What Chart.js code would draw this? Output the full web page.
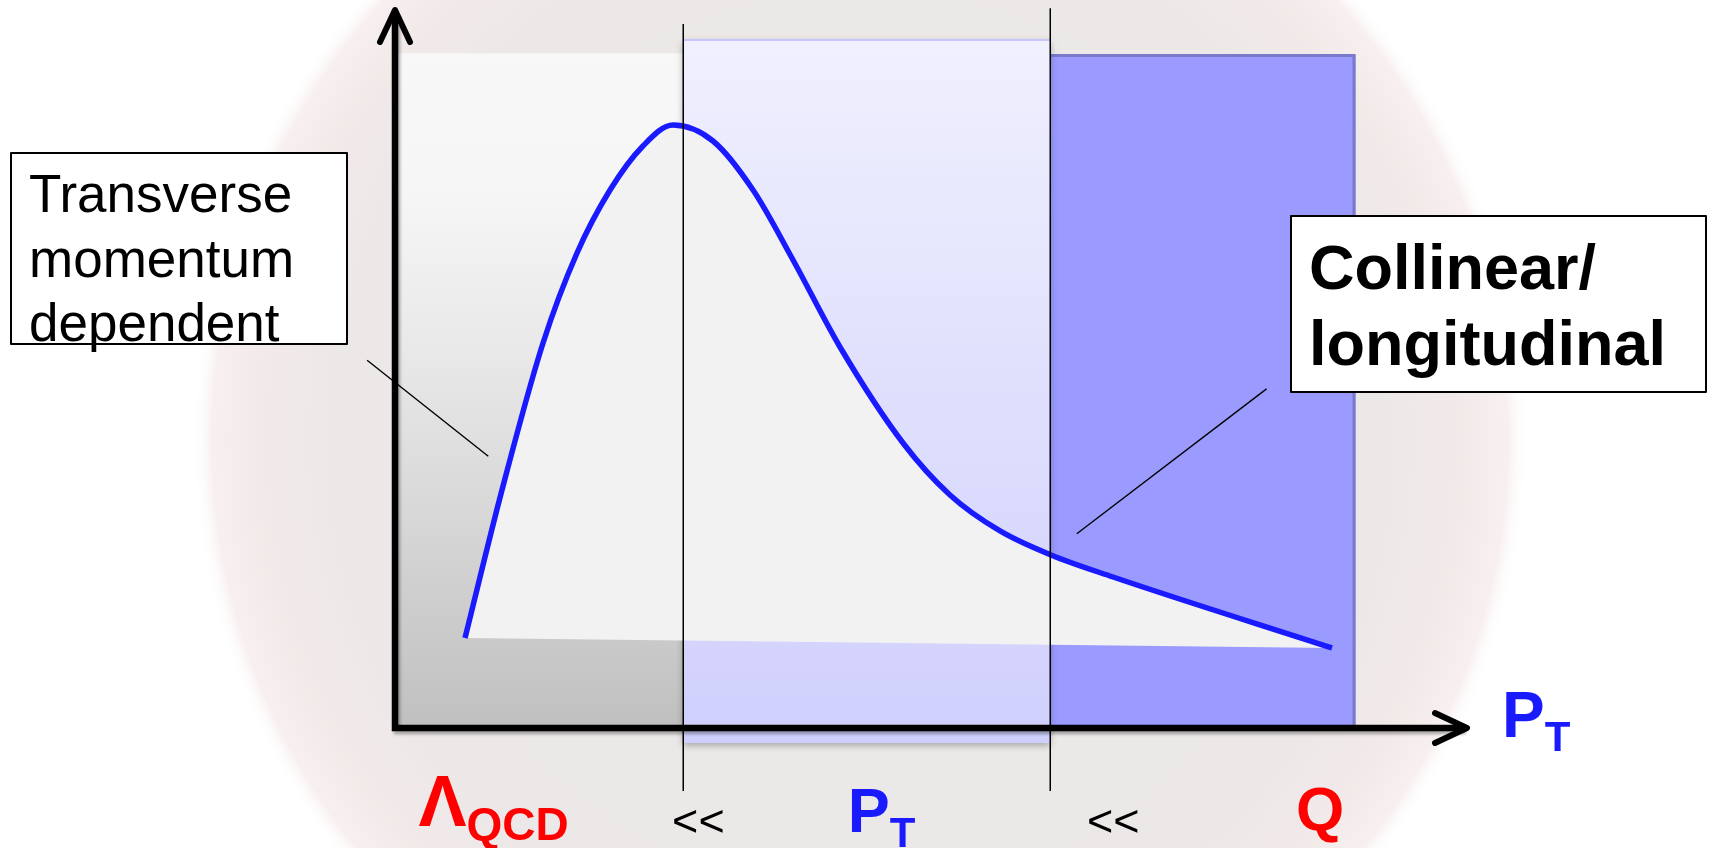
<!DOCTYPE html>
<html>
<head>
<meta charset="utf-8">
<title>TMD vs collinear regimes in P_T</title>
<script src="https://cdn.jsdelivr.net/npm/chart.js@4.4.1/dist/chart.umd.min.js"></script>
<style>
  html, body { margin: 0; padding: 0; background: #fff; overflow: hidden; }
  canvas { display: block; }
</style>
</head>
<body>
<canvas id="chart" width="1709" height="848"></canvas>
<script>
// Spectrum in P_T (arbitrary units, both axes 0..100)
const curveX = [6.53, 9.98, 13.81, 16.98, 20.06, 23.13, 25.93, 29.66, 33.40,
                37.13, 41.51, 47.39, 51.77, 56.44, 61.19, 66.98, 87.41];
const curveY = [12.55, 33.19, 53.70, 66.25, 75.03, 81.17, 84.10, 81.87, 75.03,
                65.27, 53.14, 39.75, 32.50, 27.48, 24.13, 21.06, 11.16];

// Regions along P_T: Λ_QCD | P_T | Q
const regionEdges   = [0, 26.9, 61.1, 89.6];
const regionTops    = [94.1, 96.1, 94.0];
const regionBottoms = [0, -2.1, 0];

// Divider lines between the regions
const dividerX      = [26.9, 61.1];
const dividerTop    = [98.2, 100.4];
const dividerBottom = [-8.8, -8.8];

// Scale labels under the axis (main text + subscript) and their P_T positions
const scaleLabelMain = ['Λ', '<<', 'P', '<<', 'Q'];
const scaleLabelSub  = ['QCD', '', 'T', '', ''];
const scaleLabelX    = [9.2, 28.3, 45.4, 67.0, 86.3];

// Callout texts
const leftNote  = ['Transverse', 'momentum', 'dependent'];
const rightNote = ['Collinear/', 'longitudinal'];

// ---------------------------------------------------------------------------
const FONT = '"Liberation Sans", Arial, Helvetica, sans-serif';
const RED = '#ff0000';
const BLUE = '#1a1aff';

const labelStyles = [
  { color: RED,    main: 'bold 72px', sub: 'bold 46px', base: 98, subShift: 14 },
  { color: '#000', main: '45px',      sub: '45px',      base: 108, subShift: 0 },
  { color: BLUE,   main: 'bold 63px', sub: 'bold 42px', base: 104, subShift: 15 },
  { color: '#000', main: '45px',      sub: '45px',      base: 108, subShift: 0 },
  { color: RED,    main: 'bold 62px', sub: 'bold 42px', base: 102, subShift: 0 }
];

// Callout leader lines, in chart units: [from, to]
const leaders = [
  [[-2.6, 51.3], [8.7, 37.9]],
  [[81.3, 47.3], [63.6, 27.1]]
];

function bandFill(ctx, i, top, bottom) {
  if (i === 0) {
    const g = ctx.createLinearGradient(0, top, 0, bottom);
    g.addColorStop(0, '#f8f8f8');
    g.addColorStop(0.2, '#f6f6f6');
    g.addColorStop(0.45, '#e8e8e8');
    g.addColorStop(0.65, '#dadada');
    g.addColorStop(0.85, '#cbcbcb');
    g.addColorStop(1, '#c0c0c0');
    return g;
  }
  if (i === 1) {
    const g = ctx.createLinearGradient(0, top, 0, bottom);
    g.addColorStop(0, '#f0f0fe');
    g.addColorStop(0.4, '#e3e3fd');
    g.addColorStop(0.7, '#d9d9fd');
    g.addColorStop(1, '#cfcffd');
    return g;
  }
  return '#9a9aff';
}

function drawComposite(ctx, cx, baseY, main, sub, st) {
  ctx.font = st.main + ' ' + FONT;
  const wMain = ctx.measureText(main).width;
  ctx.font = st.sub + ' ' + FONT;
  const wSub = sub ? ctx.measureText(sub).width : 0;
  const x0 = cx - (wMain + wSub) / 2;
  ctx.fillStyle = st.color;
  ctx.textAlign = 'left';
  ctx.textBaseline = 'alphabetic';
  ctx.font = st.main + ' ' + FONT;
  ctx.fillText(main, x0, baseY);
  if (sub) {
    ctx.font = st.sub + ' ' + FONT;
    ctx.fillText(sub, x0 + wMain, baseY + st.subShift);
  }
}

const schematic = {
  id: 'schematic',
  beforeDraw(chart) {
    const ctx = chart.ctx;
    const W = chart.width, H = chart.height;
    ctx.save();
    ctx.fillStyle = '#ffffff';
    ctx.fillRect(0, 0, W, H);
    // faint round emblem behind the diagram
    const cx = 860, cy = 440, R = 668;
    const g = ctx.createRadialGradient(cx, cy, 0, cx, cy, R);
    g.addColorStop(0, '#ebe8e8');
    g.addColorStop(0.78, '#ece8e8');
    g.addColorStop(0.9, '#f2e9e9');
    g.addColorStop(0.97, '#f8f0f0');
    g.addColorStop(1, 'rgba(255,255,255,0)');
    ctx.fillStyle = g;
    ctx.beginPath();
    ctx.arc(cx, cy, R, 0, Math.PI * 2);
    ctx.fill();
    ctx.restore();
  },
  beforeDatasetsDraw(chart) {
    const ctx = chart.ctx;
    const xs = chart.scales.x, ys = chart.scales.y;
    const rect = i => ({
      x0: xs.getPixelForValue(regionEdges[i]),
      x1: xs.getPixelForValue(regionEdges[i + 1]),
      y0: ys.getPixelForValue(regionTops[i]),
      y1: ys.getPixelForValue(regionBottoms[i])
    });
    ctx.save();
    // Λ_QCD region
    let r = rect(0);
    ctx.fillStyle = bandFill(ctx, 0, r.y0, r.y1);
    ctx.fillRect(r.x0, r.y0, r.x1 - r.x0, r.y1 - r.y0);
    // Q region
    r = rect(2);
    ctx.fillStyle = bandFill(ctx, 2, r.y0, r.y1);
    ctx.fillRect(r.x0, r.y0, r.x1 - r.x0, r.y1 - r.y0);
    ctx.strokeStyle = '#7a7acb';
    ctx.lineWidth = 3;
    ctx.beginPath();
    ctx.moveTo(r.x0, r.y0 + 1.5);
    ctx.lineTo(r.x1 - 1.5, r.y0 + 1.5);
    ctx.lineTo(r.x1 - 1.5, r.y1);
    ctx.stroke();
    // P_T region, lifted with a soft shadow
    r = rect(1);
    ctx.save();
    ctx.shadowColor = 'rgba(0,0,0,0.3)';
    ctx.shadowBlur = 7;
    ctx.shadowOffsetY = 3;
    ctx.fillStyle = bandFill(ctx, 1, r.y0, r.y1);
    ctx.fillRect(r.x0, r.y0, r.x1 - r.x0, r.y1 - r.y0);
    ctx.restore();
    ctx.fillStyle = '#c6c6fb';
    ctx.fillRect(r.x0, r.y0, r.x1 - r.x0, 2);

    // area under the spectrum, closed by its chord
    const line = chart.getDatasetMeta(0).dataset;
    ctx.beginPath();
    line.path(ctx);
    ctx.closePath();
    ctx.fillStyle = '#f2f2f2';
    ctx.fill();
    ctx.restore();
  },
  afterDatasetsDraw(chart) {
    const ctx = chart.ctx;
    const xs = chart.scales.x, ys = chart.scales.y;
    const area = chart.chartArea;
    const ox = xs.getPixelForValue(0), oy = ys.getPixelForValue(0);
    ctx.save();

    // axes with arrows
    ctx.save();
    ctx.shadowColor = 'rgba(0,0,0,0.3)';
    ctx.shadowBlur = 3;
    ctx.shadowOffsetX = 2;
    ctx.shadowOffsetY = 3;
    ctx.strokeStyle = '#000';
    ctx.lineWidth = 6.5;
    ctx.lineCap = 'butt';
    ctx.beginPath();
    ctx.moveTo(ox, oy + 3.2);
    ctx.lineTo(ox, area.top + 3);
    ctx.moveTo(ox - 3.2, oy);
    ctx.lineTo(area.right - 3, oy);
    ctx.stroke();
    ctx.restore();
    ctx.strokeStyle = '#000';
    ctx.lineWidth = 6;
    ctx.lineCap = 'round';
    ctx.lineJoin = 'round';
    const tipY = area.top - 1;
    ctx.beginPath();
    ctx.moveTo(ox - 15, tipY + 32);
    ctx.lineTo(ox, tipY);
    ctx.lineTo(ox + 15, tipY + 32);
    ctx.stroke();
    const tipX = area.right;
    ctx.beginPath();
    ctx.moveTo(tipX - 32, oy - 15);
    ctx.lineTo(tipX, oy);
    ctx.lineTo(tipX - 32, oy + 15);
    ctx.stroke();

    // dividers
    ctx.lineCap = 'butt';
    ctx.lineWidth = 1.5;
    dividerX.forEach((v, i) => {
      const px = Math.round(xs.getPixelForValue(v)) + 0.25;
      ctx.beginPath();
      ctx.moveTo(px, ys.getPixelForValue(dividerTop[i]));
      ctx.lineTo(px, ys.getPixelForValue(dividerBottom[i]));
      ctx.stroke();
    });

    // leader lines
    ctx.lineWidth = 1.4;
    leaders.forEach(([a, b]) => {
      ctx.beginPath();
      ctx.moveTo(xs.getPixelForValue(a[0]), ys.getPixelForValue(a[1]));
      ctx.lineTo(xs.getPixelForValue(b[0]), ys.getPixelForValue(b[1]));
      ctx.stroke();
    });

    // note boxes
    ctx.lineWidth = 2;
    ctx.fillStyle = '#fff';
    ctx.fillRect(11, 153, 336, 191);
    ctx.strokeRect(11, 153, 336, 191);
    ctx.fillRect(1291, 216, 415, 176);
    ctx.strokeRect(1291, 216, 415, 176);
    ctx.fillStyle = '#000';
    ctx.textAlign = 'left';
    ctx.textBaseline = 'alphabetic';
    ctx.font = '53px ' + FONT;
    leftNote.forEach((t, i) => ctx.fillText(t, 29, 212 + i * 64.5));
    ctx.font = 'bold 63px ' + FONT;
    rightNote.forEach((t, i) => ctx.fillText(t, 1309, 289 + i * 76));

    // scale labels under the axis
    scaleLabelMain.forEach((t, i) => {
      const st = labelStyles[i];
      drawComposite(ctx, xs.getPixelForValue(scaleLabelX[i]), oy + st.base,
                    t, scaleLabelSub[i], st);
    });

    // axis title beside the arrow
    ctx.fillStyle = BLUE;
    ctx.font = 'bold 64px ' + FONT;
    const pW = ctx.measureText('P').width;
    ctx.fillText('P', tipX + 35, oy + 9);
    ctx.font = 'bold 42px ' + FONT;
    ctx.fillText('T', tipX + 35 + pW, oy + 23);

    ctx.restore();
  }
};

new Chart(document.getElementById('chart').getContext('2d'), {
  type: 'line',
  data: {
    datasets: [{
      label: 'spectrum',
      data: curveX.map((x, i) => ({ x: x, y: curveY[i] })),
      borderColor: BLUE,
      borderWidth: 5.5,
      pointRadius: 0,
      cubicInterpolationMode: 'monotone',
      fill: false,
      clip: false
    }]
  },
  options: {
    responsive: false,
    animation: false,
    devicePixelRatio: 1,
    events: [],
    layout: { padding: { left: 395, right: 242, top: 11, bottom: 120 } },
    scales: {
      x: { type: 'linear', min: 0, max: 100, display: false },
      y: { type: 'linear', min: 0, max: 100, display: false }
    },
    plugins: { legend: { display: false }, tooltip: { enabled: false } }
  },
  plugins: [schematic]
});
</script>
</body>
</html>
